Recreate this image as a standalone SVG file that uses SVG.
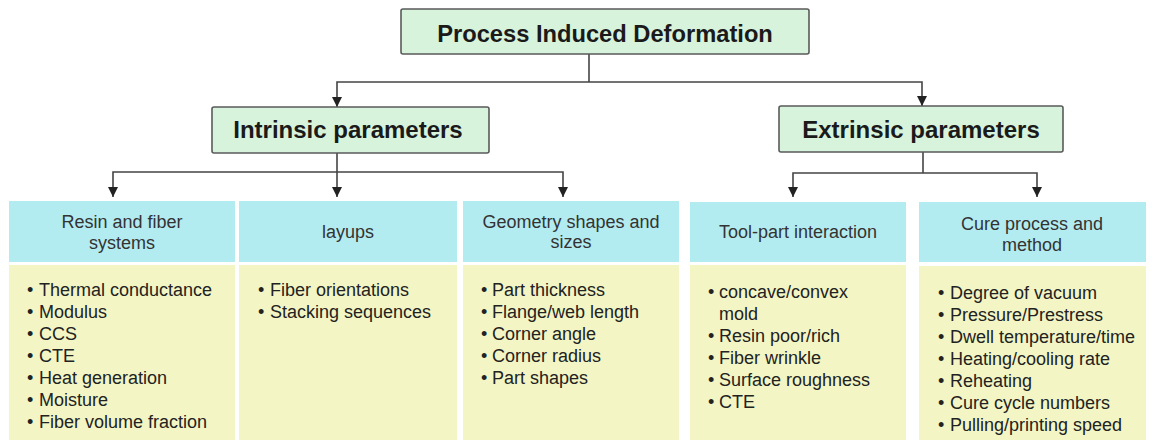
<svg xmlns="http://www.w3.org/2000/svg" width="1155" height="443" viewBox="0 0 1155 443">
  <style>
    .root { fill: #d8f3dc; stroke: #5a5a5a; stroke-width: 1.6; }
    .title { font-family: "Liberation Sans", Arial, sans-serif; font-weight: bold; fill: #1a1a1a; text-anchor: middle; }
    .head { fill: #b3ecf0; }
    .body { fill: #f3f6c4; }
    .htxt { font-family: "Liberation Sans", Arial, sans-serif; font-size: 18px; fill: #333; text-anchor: middle; }
    .item { font-family: "Liberation Sans", Arial, sans-serif; font-size: 18px; fill: #222; }
    .wire { fill: none; stroke: #444; stroke-width: 1.6; }
  </style>
  <defs>
    <marker id="arrow" viewBox="0 0 10 10" refX="10" refY="5" markerWidth="10" markerHeight="10" markerUnits="userSpaceOnUse" orient="auto">
      <path d="M0,0 L10,5 L0,10 Z" fill="#222"/>
    </marker>
  </defs>
  <rect width="1155" height="443" fill="#ffffff"/>

  <!-- connectors -->
  <g id="connectors">
    <path class="wire" d="M589,54 V82"/>
    <path class="wire" d="M589,82 H337 V107" marker-end="url(#arrow)"/>
    <path class="wire" d="M589,82 H922 V106" marker-end="url(#arrow)"/>
    <path class="wire" d="M337,153 V172"/>
    <path class="wire" d="M337,172 H113 V197" marker-end="url(#arrow)"/>
    <path class="wire" d="M337,172 V197" marker-end="url(#arrow)"/>
    <path class="wire" d="M337,172 H563 V197" marker-end="url(#arrow)"/>
    <path class="wire" d="M923,152 V173"/>
    <path class="wire" d="M923,173 H793 V197" marker-end="url(#arrow)"/>
    <path class="wire" d="M923,173 H1037 V197" marker-end="url(#arrow)"/>
  </g>

  <!-- top level -->
  <g id="node-pid">
    <rect class="root" x="401" y="9" width="408" height="45" rx="2"/>
    <text class="title" x="605" y="42" font-size="23.7">Process Induced Deformation</text>
  </g>

  <g id="node-intrinsic">
    <rect class="root" x="212" y="107" width="277" height="46" rx="2"/>
    <text class="title" x="348" y="138" font-size="24">Intrinsic parameters</text>
  </g>

  <g id="node-extrinsic">
    <rect class="root" x="779" y="106" width="284" height="46" rx="2"/>
    <text class="title" x="921" y="138" font-size="24">Extrinsic parameters</text>
  </g>

  <!-- parameter categories -->
  <g id="node-resin">
    <rect class="head" x="9" y="201" width="226" height="61"/>
    <rect class="body" x="9" y="265" width="226" height="175"/>
    <text class="htxt" x="122" y="228">Resin and fiber</text>
    <text class="htxt" x="122" y="249">systems</text>
    <text class="item" x="27" y="296">
      <tspan x="27">•</tspan><tspan x="39">Thermal conductance</tspan>
      <tspan x="27" y="318">•</tspan><tspan x="39">Modulus</tspan>
      <tspan x="27" y="340">•</tspan><tspan x="39">CCS</tspan>
      <tspan x="27" y="362">•</tspan><tspan x="39">CTE</tspan>
      <tspan x="27" y="384">•</tspan><tspan x="39">Heat generation</tspan>
      <tspan x="27" y="406">•</tspan><tspan x="39">Moisture</tspan>
      <tspan x="27" y="428">•</tspan><tspan x="39">Fiber volume fraction</tspan>
    </text>
  </g>

  <g id="node-layups">
    <rect class="head" x="239" y="201" width="218" height="61"/>
    <rect class="body" x="239" y="265" width="218" height="175"/>
    <text class="htxt" x="348" y="238">layups</text>
    <text class="item" x="258" y="296">
      <tspan x="258">•</tspan><tspan x="270">Fiber orientations</tspan>
      <tspan x="258" y="318">•</tspan><tspan x="270">Stacking sequences</tspan>
    </text>
  </g>

  <g id="node-geometry">
    <rect class="head" x="463" y="201" width="216" height="61"/>
    <rect class="body" x="463" y="265" width="216" height="175"/>
    <text class="htxt" x="571" y="228">Geometry shapes and</text>
    <text class="htxt" x="571" y="248">sizes</text>
    <text class="item" x="481" y="296">
      <tspan x="481">•</tspan><tspan x="492">Part thickness</tspan>
      <tspan x="481" y="318">•</tspan><tspan x="492">Flange/web length</tspan>
      <tspan x="481" y="340">•</tspan><tspan x="492">Corner angle</tspan>
      <tspan x="481" y="362">•</tspan><tspan x="492">Corner radius</tspan>
      <tspan x="481" y="384">•</tspan><tspan x="492">Part shapes</tspan>
    </text>
  </g>

  <g id="node-toolpart">
    <rect class="head" x="690" y="202" width="216" height="60"/>
    <rect class="body" x="690" y="265" width="216" height="175"/>
    <text class="htxt" x="798" y="238">Tool-part interaction</text>
    <text class="item" x="708" y="298">
      <tspan x="708">•</tspan><tspan x="719">concave/convex</tspan>
      <tspan x="719" y="320">mold</tspan>
      <tspan x="708" y="342">•</tspan><tspan x="719">Resin poor/rich</tspan>
      <tspan x="708" y="364">•</tspan><tspan x="719">Fiber wrinkle</tspan>
      <tspan x="708" y="386">•</tspan><tspan x="719">Surface roughness</tspan>
      <tspan x="708" y="408">•</tspan><tspan x="719">CTE</tspan>
    </text>
  </g>

  <g id="node-cure">
    <rect class="head" x="919" y="202" width="227" height="60"/>
    <rect class="body" x="919" y="266" width="227" height="174"/>
    <text class="htxt" x="1032" y="230">Cure process and</text>
    <text class="htxt" x="1032" y="251">method</text>
    <text class="item" x="938" y="299">
      <tspan x="938">•</tspan><tspan x="950">Degree of vacuum</tspan>
      <tspan x="938" y="321">•</tspan><tspan x="950">Pressure/Prestress</tspan>
      <tspan x="938" y="343">•</tspan><tspan x="950">Dwell temperature/time</tspan>
      <tspan x="938" y="365">•</tspan><tspan x="950">Heating/cooling rate</tspan>
      <tspan x="938" y="387">•</tspan><tspan x="950">Reheating</tspan>
      <tspan x="938" y="409">•</tspan><tspan x="950">Cure cycle numbers</tspan>
      <tspan x="938" y="431">•</tspan><tspan x="950">Pulling/printing speed</tspan>
    </text>
  </g>
</svg>
